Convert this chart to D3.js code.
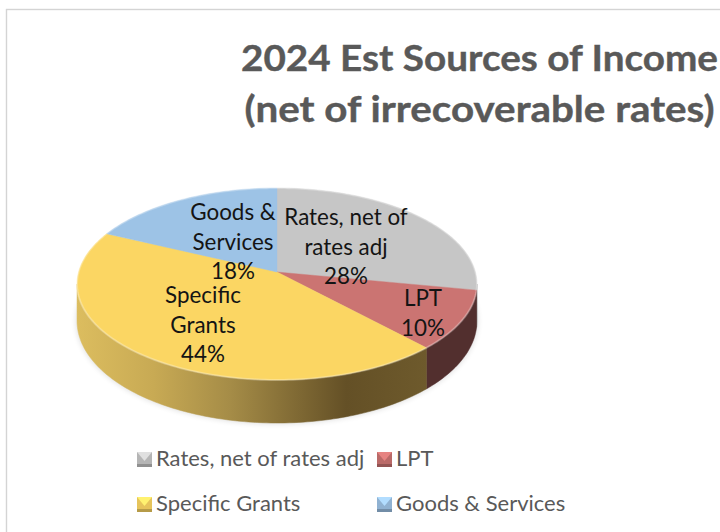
<!DOCTYPE html>
<html>
<head>
<meta charset="utf-8">
<script src="https://cdn.jsdelivr.net/npm/d3@7/dist/d3.min.js"></script>
<style>
  html, body { margin: 0; padding: 0; background: #fff; }
  svg { display: block; }
  text { font-family: Lato, "Open Sans", sans-serif; }
</style>
</head>
<body>
<svg id="chart" width="720" height="532"></svg>
<script>
// Income sources, in percent of the total
const categories = ["Rates, net of rates adj", "LPT", "Specific Grants", "Goods & Services"];
const shares = [28, 10, 44, 18];
const faceColors = ["#c6c6c6", "#cb7472", "#fbd663", "#9dc3e6"];
const titleLines = ["2024 Est Sources of Income", "(net of irrecoverable rates)"];
const labelLines = [["Rates, net of", "rates adj"], ["LPT"], ["Specific", "Grants"], ["Goods &", "Services"]];

const svg = d3.select("#chart");
const defs = svg.append("defs");

// Perspective view of the round pie, tilted away from the viewer
const apex = { x: 277, y: 272 };
const radiusX = 198.4, radiusY = 94.5, perspective = 0.125;
function project(angle) {
  const u = Math.sin(angle), v = Math.cos(angle), w = 1 + perspective * v;
  return [apex.x + radiusX * u / w, apex.y - radiusY * v / w];
}
function projectLower(angle) {
  const [x, y] = project(angle);
  return [x, y + 36 - 7 * Math.cos(angle)];
}
function sampleAngles(a0, a1) {
  const n = Math.max(2, Math.ceil((a1 - a0) / 0.02));
  return d3.range(n + 1).map(i => a0 + (a1 - a0) * i / n);
}
const outline = d3.line();

const slices = d3.pie().sort(null).value(d => d)(shares);

// Chart frame
svg.append("rect").attr("x", 6.5).attr("y", 9.5).attr("width", 760).attr("height", 560)
  .attr("fill", "#fff").attr("stroke", "#d4d4d4").attr("stroke-width", 1.4);

// Title, widened slightly to the set width of its face
svg.append("g").selectAll("text").data(titleLines).join("text")
  .attr("x", 479.5).attr("y", (d, i) => 71 + i * 51)
  .attr("text-anchor", "middle")
  .attr("font-size", 37).attr("font-weight", 700).attr("fill", "#595959")
  .attr("stroke", "#595959").attr("stroke-width", 0.4)
  .attr("textLength", (d, i) => [477, 470][i]).attr("lengthAdjust", "spacingAndGlyphs")
  .text(d => d);

// Soft shadow under the pie
const shadow = defs.append("filter").attr("id", "pieShadow")
  .attr("x", "-10%").attr("y", "-10%").attr("width", "120%").attr("height", "125%");
shadow.append("feGaussianBlur").attr("stdDeviation", 3);
const fullLower = sampleAngles(0, 2 * Math.PI).map(projectLower);
svg.append("path").attr("d", outline(fullLower) + "Z")
  .attr("fill", "#000").attr("opacity", 0.16).attr("filter", "url(#pieShadow)");

// Side wall: only the front-facing part of the rim is visible
const wallStart = Math.acos(-perspective), wallEnd = 2 * Math.PI - wallStart;
const wallStops = [
  ["0%", "#dcbd5f"], ["22%", "#c8aa54"], ["44%", "#a58c47"],
  ["77%", "#645026"], ["100%", "#6e5a2c"]
];
const wallGrad = defs.append("linearGradient").attr("id", "wallYellow")
  .attr("gradientUnits", "userSpaceOnUse")
  .attr("x1", 76).attr("y1", 0).attr("x2", 427).attr("y2", 0);
wallGrad.selectAll("stop").data(wallStops).join("stop")
  .attr("offset", d => d[0]).attr("stop-color", d => d[1]);
const wallFill = ["#6f6f6f", "#522f2e", "url(#wallYellow)", "#56718c"];

svg.append("g").selectAll("path")
  .data(slices.filter(s => s.endAngle > wallStart && s.startAngle < wallEnd))
  .join("path")
  .attr("d", s => {
    const angles = sampleAngles(Math.max(s.startAngle, wallStart), Math.min(s.endAngle, wallEnd));
    return outline(angles.map(project).concat(angles.slice().reverse().map(projectLower))) + "Z";
  })
  .attr("fill", s => wallFill[s.index])
  .attr("stroke", s => wallFill[s.index]).attr("stroke-width", 0.5);

// Top face
svg.append("g").selectAll("path").data(slices).join("path")
  .attr("d", s => outline([[apex.x, apex.y]].concat(sampleAngles(s.startAngle, s.endAngle).map(project))) + "Z")
  .attr("fill", s => faceColors[s.index])
  .attr("stroke", s => faceColors[s.index]).attr("stroke-width", 0.4);

// Pale bevel along the rim of the top face
svg.append("path").attr("d", outline(sampleAngles(0, 2 * Math.PI).map(project)) + "Z")
  .attr("fill", "none").attr("stroke", "#fff").attr("stroke-opacity", 0.28).attr("stroke-width", 2);

// Data labels, hand-placed on their slices
const labelCenters = [[346, 217], [423, 298], [203, 295], [233, 212]];
const labelGroups = svg.append("g").selectAll("g").data(slices).join("g");
labelGroups.selectAll("text")
  .data(s => labelLines[s.index].concat(shares[s.index] + "%")
    .map((line, i) => ({ line, i, c: labelCenters[s.index] })))
  .join("text")
  .attr("x", d => d.c[0])
  .attr("y", d => d.c[1] + d.i * 29.6 + 8)
  .attr("text-anchor", "middle")
  .attr("font-size", 22.4).attr("fill", "#141414")
  .text(d => d.line);

// Legend with bevelled swatches
const legendCols = [137, 377], legendRows = [452, 497];
const swatchSize = 15;
const legend = svg.append("g").selectAll("g").data(categories).join("g")
  .attr("transform", (d, i) => `translate(${legendCols[i % 2]},${legendRows[Math.floor(i / 2)]})`);
legend.append("rect").attr("width", swatchSize).attr("height", swatchSize)
  .attr("fill", (d, i) => d3.color(faceColors[i]).darker(0.25));
legend.append("path")
  .attr("d", `M0,0H${swatchSize}L${swatchSize / 2},${swatchSize * 0.6}Z`)
  .attr("fill", (d, i) => d3.color(faceColors[i]).brighter(0.35));
legend.append("path")
  .attr("d", `M0,${swatchSize}H${swatchSize}V${swatchSize - 3}H0Z`)
  .attr("fill", (d, i) => d3.color(faceColors[i]).darker(0.9));
legend.append("text")
  .attr("x", swatchSize + 4).attr("y", swatchSize / 2 + 6)
  .attr("font-size", 22).attr("fill", "#595959")
  .text(d => d);
</script>
</body>
</html>
